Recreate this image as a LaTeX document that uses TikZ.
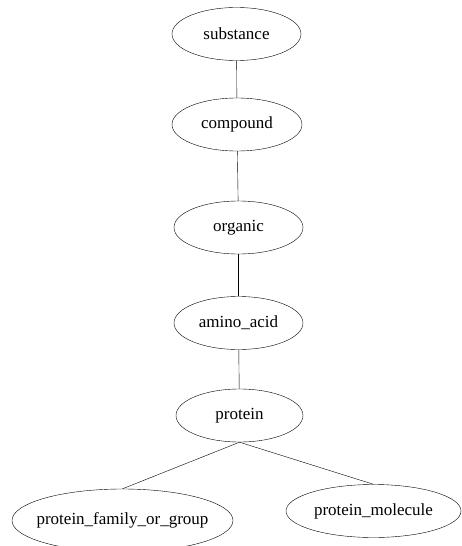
\documentclass[tikz,border=0pt]{standalone}
\usepackage{fontspec}
\setmainfont{Liberation Serif}
\usetikzlibrary{shapes.geometric}

\newcommand{\conceptlabel}[1]{\makebox[0pt]{#1}}
\tikzset{concept/.style={draw, ellipse, inner sep=0pt, minimum height=53pt, font=\fontsize{17}{20}\selectfont}}

\begin{document}
\begin{tikzpicture}[x=1pt, y=-1pt]
  \useasboundingbox (0,0) rectangle (461,546);
  \node [concept, minimum width=129pt] (substance) at (236.5,34) {\conceptlabel{substance}};
  \node [concept, minimum width=130pt] (compound) at (237,124.5) {\conceptlabel{compound}};
  \node [concept, minimum width=129pt] (organic) at (238.5,227.5) {\conceptlabel{organic}};
  \node [concept, minimum width=129pt] (aminoacid) at (238.5,323) {\conceptlabel{amino\_acid}};
  \node [concept, minimum width=127pt] (protein) at (239.5,415.5) {\conceptlabel{protein}};
  \node [concept, minimum width=221pt, minimum height=63pt] (familygroup) at (122.5,520.5) {\conceptlabel{protein\_family\_or\_group}};
  \node [concept, minimum width=175pt] (molecule) at (373.5,511) {\conceptlabel{protein\_molecule}};
  \draw (substance) -- (compound);
  \draw (compound) -- (organic);
  \draw (organic) -- (aminoacid);
  \draw (aminoacid) -- (protein);
  \draw (protein.south) -- (familygroup.north);
  \draw (protein.south) -- (molecule.north);
\end{tikzpicture}
\end{document}
